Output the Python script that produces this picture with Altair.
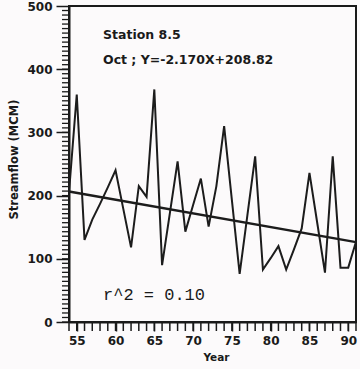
import altair as alt
import numpy as np
import pandas as pd

# October streamflow at Station 8.5, 1954-1991 (two-digit years)
years = list(range(54, 92))
flow = [205, 360, 130, 162, 187, 213, 240, 179, 118, 215,
        198, 368, 90, 172, 254, 143, 185, 227, 151, 215,
        310, 193, 76, 169, 262, 83, 101, 120, 83, 115,
        148, 236, 157, 78, 262, 86, 86, 127]

# fitted trend: Y = slope * X + intercept, with X = 1 for the first year
slope = -2.170
intercept = 208.82
first_year = years[0]

station_label = "Station 8.5"
equation_label = "Oct ; Y=-2.170X+208.82"
r2_label = "r^2 = 0.10"

df = pd.DataFrame({"year": years, "flow": flow})
trend = pd.DataFrame({
    "year": [years[0], years[-1]],
    "flow": [slope * (y - first_year + 1) + intercept for y in (years[0], years[-1])],
})
y_minor = pd.DataFrame({"v": np.arange(0, 500, 100 / 14)})
x_minor = pd.DataFrame({"v": years})

FONT = "DejaVu Sans"
INK = "#1a1a1a"
PLOT_H = 316

x_scale = alt.Scale(domain=[54, 91], nice=False, zero=False)
y_scale = alt.Scale(domain=[0, 500], nice=False)

x_axis = alt.Axis(
    title="Year", values=[55, 60, 65, 70, 75, 80, 85, 90], format="d",
    labelOverlap=False,
    tickSize=9, tickWidth=1.5, tickColor=INK,
    domainColor=INK, domainWidth=2,
    labelFont=FONT, labelFontWeight="bold", labelFontSize=12, labelColor=INK,
    labelPadding=4, labelFlush=False, grid=False,
    titleFont=FONT, titleFontWeight="bold", titleFontSize=10.5, titleColor=INK,
    titleX=147, titleY=35, titleBaseline="middle", titleAlign="center",
)
y_axis = alt.Axis(
    title="Streamflow (MCM)", values=[0, 100, 200, 300, 400, 500],
    labelOverlap=False,
    tickSize=13, tickWidth=1.5, tickColor=INK,
    domainColor=INK, domainWidth=2,
    labelFont=FONT, labelFontWeight="bold", labelFontSize=12, labelColor=INK,
    labelPadding=4, labelFlush=False, grid=False,
    titleFont=FONT, titleFontWeight="bold", titleFontSize=11.5, titleColor=INK,
    titleAngle=270, titleX=-55, titleY=153, titleBaseline="middle", titleAlign="center",
)

flow_line = alt.Chart(df).mark_line(color="#1c1c1c", strokeWidth=2, strokeJoin="miter").encode(
    x=alt.X("year:Q", scale=x_scale, axis=x_axis),
    y=alt.Y("flow:Q", scale=y_scale, axis=y_axis),
)

trend_line = alt.Chart(trend).mark_line(color="#1c1c1c", strokeWidth=2.5).encode(
    x="year:Q", y="flow:Q"
)

# minor tick combs along both axes
y_ticks = alt.Chart(y_minor).mark_rule(color=INK, strokeWidth=1.3).encode(
    y="v:Q", x=alt.value(-7), x2=alt.value(0)
)
x_ticks = alt.Chart(x_minor).mark_rule(color=INK, strokeWidth=1.5).encode(
    x="v:Q", y=alt.value(PLOT_H), y2=alt.value(PLOT_H + 9)
)

def note(text, px, py, font, size, weight):
    return alt.Chart(pd.DataFrame({"t": [text]})).mark_text(
        align="left", baseline="middle", font=font, fontSize=size,
        fontWeight=weight, color=INK
    ).encode(text="t:N", x=alt.value(px), y=alt.value(py))

chart = alt.layer(
    y_ticks,
    x_ticks,
    trend_line,
    flow_line,
    note(station_label, 34, 29, FONT, 12.5, "bold"),
    note(equation_label, 34, 54, FONT, 12.5, "bold"),
    note(r2_label, 34, 289, "Liberation Mono", 17, "normal"),
).properties(
    width=287, height=PLOT_H,
    autosize=alt.AutoSizeParams(type="none"),
    padding={"left": 69, "top": 6, "right": 4, "bottom": 47},
    background="#fcfafb",
).configure_view(stroke=INK, strokeWidth=2)

chart.save("out.html", embed_options={"renderer": "svg", "actions": False})
